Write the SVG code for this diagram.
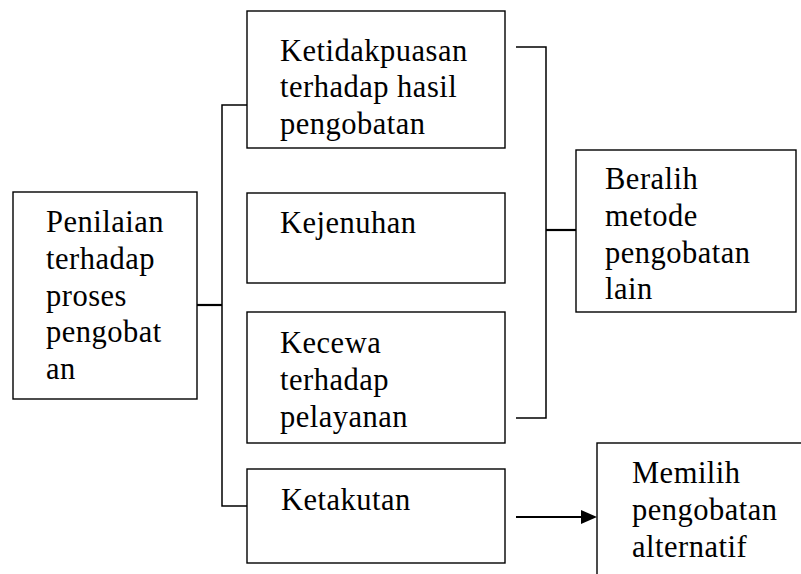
<svg xmlns="http://www.w3.org/2000/svg" width="801" height="574" viewBox="0 0 801 574">
<rect width="801" height="574" fill="#fff"/>
<g id="connectors" fill="none" stroke="#000">
<path stroke-width="2.2" d="M197,305 H222"/>
<path stroke-width="1.5" d="M247,105 H222 V506 H247"/>
<path stroke-width="1.5" d="M516,47 H546 V418 H516"/>
<path stroke-width="2.2" d="M546,230 H576"/>
<path stroke-width="2.2" d="M516,517 H583"/>
<polygon points="581,510 597,517 581,524" fill="#000" stroke="none"/>
</g>
<g id="penilaian">
<rect x="13" y="192" width="184" height="207" fill="#fff" stroke="#000" stroke-width="1.4"/>
<text x="46" y="232" font-family="Liberation Serif" font-size="30.5" letter-spacing="0.5">Penilaian</text>
<text x="46" y="269" font-family="Liberation Serif" font-size="30.5" letter-spacing="0.5">terhadap</text>
<text x="46" y="306" font-family="Liberation Serif" font-size="30.5" letter-spacing="0.5">proses</text>
<text x="46" y="342" font-family="Liberation Serif" font-size="30.5" letter-spacing="0.5">pengobat</text>
<text x="46" y="379" font-family="Liberation Serif" font-size="30.5" letter-spacing="0.5">an</text>
</g>
<g id="ketidakpuasan">
<rect x="247" y="11" width="258" height="137" fill="#fff" stroke="#000" stroke-width="1.4"/>
<text x="280" y="61" font-family="Liberation Serif" font-size="30.5" letter-spacing="0.5">Ketidakpuasan</text>
<text x="280" y="97" font-family="Liberation Serif" font-size="30.5" letter-spacing="0.5">terhadap hasil</text>
<text x="280" y="134" font-family="Liberation Serif" font-size="30.5" letter-spacing="0.5">pengobatan</text>
</g>
<g id="kejenuhan">
<rect x="247" y="193" width="258" height="90" fill="#fff" stroke="#000" stroke-width="1.4"/>
<text x="280" y="233" font-family="Liberation Serif" font-size="30.5" letter-spacing="0.5">Kejenuhan</text>
</g>
<g id="kecewa">
<rect x="247" y="312" width="258" height="131" fill="#fff" stroke="#000" stroke-width="1.4"/>
<text x="280" y="353" font-family="Liberation Serif" font-size="30.5" letter-spacing="0.5">Kecewa</text>
<text x="280" y="390" font-family="Liberation Serif" font-size="30.5" letter-spacing="0.5">terhadap</text>
<text x="280" y="427" font-family="Liberation Serif" font-size="30.5" letter-spacing="0.5">pelayanan</text>
</g>
<g id="ketakutan">
<rect x="247" y="469" width="258" height="94" fill="#fff" stroke="#000" stroke-width="1.4"/>
<text x="281" y="510" font-family="Liberation Serif" font-size="30.5" letter-spacing="0.5">Ketakutan</text>
</g>
<g id="beralih">
<rect x="576" y="150" width="220" height="162" fill="#fff" stroke="#000" stroke-width="1.4"/>
<text x="605" y="189" font-family="Liberation Serif" font-size="30.5" letter-spacing="0.5">Beralih</text>
<text x="605" y="226" font-family="Liberation Serif" font-size="30.5" letter-spacing="0.5">metode</text>
<text x="605" y="263" font-family="Liberation Serif" font-size="30.5" letter-spacing="0.5">pengobatan</text>
<text x="605" y="299" font-family="Liberation Serif" font-size="30.5" letter-spacing="0.5">lain</text>
</g>
<g id="memilih">
<rect x="597" y="443" width="230" height="160" fill="#fff" stroke="#000" stroke-width="1.4"/>
<text x="632" y="483" font-family="Liberation Serif" font-size="30.5" letter-spacing="0.5">Memilih</text>
<text x="632" y="520" font-family="Liberation Serif" font-size="30.5" letter-spacing="0.5">pengobatan</text>
<text x="632" y="557" font-family="Liberation Serif" font-size="30.5" letter-spacing="0.5">alternatif</text>
</g>
</svg>
